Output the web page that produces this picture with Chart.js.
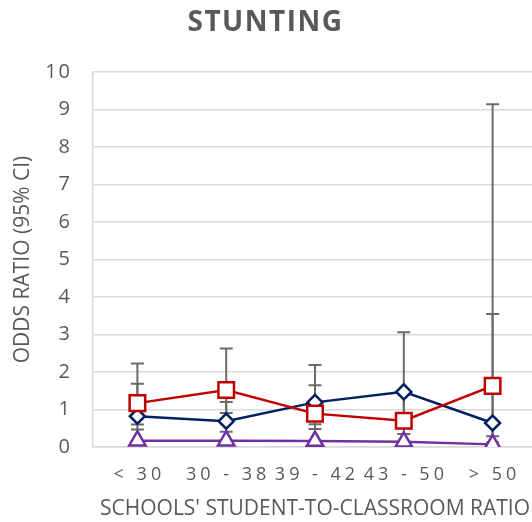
<!DOCTYPE html>
<html>
<head>
<meta charset="utf-8">
<script src="https://cdn.jsdelivr.net/npm/chart.js@4.4.1/dist/chart.umd.min.js"></script>
<style>
html, body { margin: 0; padding: 0; overflow: hidden; background: #fff; }
canvas { display: block; }
</style>
</head>
<body>
<canvas id="c" width="537" height="522"></canvas>
<script>
// ---- data ----
const categories = ['< 30', '30 - 38', '39 - 42', '43 - 50', '> 50'];
const yTicks = [0, 1, 2, 3, 4, 5, 6, 7, 8, 9, 10];

const navyOR   = [0.82, 0.69, 1.19, 1.47, 0.64];
const navyLow  = [0.47, 0.41, 0.61, 0.70, 0.12];
const navyHigh = [1.69, 1.20, 2.19, 3.06, 3.55];

const redOR    = [1.17, 1.52, 0.89, 0.70, 1.63];
const redLow   = [0.60, 0.91, 0.48, 0.35, 0.29];
const redHigh  = [2.23, 2.63, 1.65, 1.40, 9.14];

const purpleOR = [0.17, 0.17, 0.16, 0.14, 0.07];

const ciSeries = [
  [navyLow, navyHigh],
  [redLow, redHigh]
];

const GRAY = '#595959';
const FONT = "'Open Sans', sans-serif";

const errorBars = {
  id: 'errorBars',
  beforeDatasetsDraw(chart) {
    const { ctx, scales: { x, y } } = chart;
    ctx.save();
    ctx.strokeStyle = '#6a6a6a';
    ctx.lineWidth = 2;
    const cap = 6.5;
    ciSeries.forEach(([lows, highs]) => {
      lows.forEach((lo, i) => {
        const hi = highs[i];
        if (lo == null || hi == null) return;
        const px = x.getPixelForValue(i);
        const y1 = y.getPixelForValue(lo);
        const y2 = y.getPixelForValue(hi);
        ctx.beginPath();
        ctx.moveTo(px, y1); ctx.lineTo(px, y2);
        ctx.moveTo(px - cap, y1); ctx.lineTo(px + cap, y1);
        ctx.moveTo(px - cap, y2); ctx.lineTo(px + cap, y2);
        ctx.stroke();
      });
    });
    ctx.restore();
  }
};

function withSpacing(obj, method, spacing, dx) {
  const orig = obj[method].bind(obj);
  obj[method] = function (...args) {
    const c = this.ctx;
    c.save();
    c.letterSpacing = spacing;
    if (dx) c.translate(dx, 0);
    orig(...args);
    c.restore();
  };
}

const textSpacing = {
  id: 'textSpacing',
  afterLayout(chart) {
    const t = chart.titleBlock;
    if (t && !t._patched) { withSpacing(t, 'draw', '1.5px', -3); t._patched = true; }
    const x = chart.scales.x;
    if (x && !x._patched) { withSpacing(x, 'drawLabels', '4px'); x._patched = true; }
    const y = chart.scales.y;
    if (y && !y._patched) { withSpacing(y, 'drawLabels', '2px'); y._patched = true; }
  }
};

new Chart(document.getElementById('c'), {
  type: 'line',
  data: {
    labels: categories,
    datasets: [
      {
        label: 'Navy',
        data: navyOR,
        borderColor: '#002060',
        backgroundColor: '#ffffff',
        borderWidth: 2.5,
        pointStyle: 'rectRot',
        pointRadius: 7.5,
        pointBorderWidth: 2.5,
        pointBackgroundColor: '#ffffff',
        pointBorderColor: '#002060',
        tension: 0,
        order: 2
      },
      {
        label: 'Red',
        data: redOR,
        borderColor: '#C00000',
        backgroundColor: '#ffffff',
        borderWidth: 2.5,
        pointStyle: 'rect',
        pointRadius: 11,
        pointBorderWidth: 2.5,
        pointBackgroundColor: '#ffffff',
        pointBorderColor: '#C00000',
        tension: 0,
        order: 1
      },
      {
        label: 'Purple',
        data: purpleOR,
        borderColor: '#7030A0',
        backgroundColor: '#ffffff',
        borderWidth: 2.5,
        pointStyle: 'triangle',
        pointRadius: 9.5,
        pointBorderWidth: 2.5,
        pointBackgroundColor: '#ffffff',
        pointBorderColor: '#7030A0',
        tension: 0,
        order: 0
      }
    ]
  },
  options: {
    responsive: false,
    animation: false,
    layout: { autoPadding: false, padding: { left: 0, right: 0, top: 0, bottom: 0 } },
    plugins: {
      legend: { display: false },
      tooltip: { enabled: false },
      title: {
        display: true,
        text: 'STUNTING',
        color: GRAY,
        font: { family: FONT, size: 28, weight: 'bold' },
        padding: { top: 6, bottom: 32.4 }
      }
    },
    scales: {
      x: {
        type: 'category',
        offset: true,
        grid: { display: false, drawTicks: false },
        border: { display: true, color: '#d9d9d9', width: 1.5 },
        ticks: {
          color: GRAY,
          font: { family: FONT, size: 18 },
          padding: 17,
          labelOffset: 2,
          maxRotation: 0,
          autoSkip: false
        },
        title: {
          display: true,
          text: "SCHOOLS' STUDENT-TO-CLASSROOM RATIO",
          color: GRAY,
          font: { family: FONT, size: 21 },
          padding: { top: 0, bottom: 0 }
        },
        afterFit(s) { s.height = 75; s.paddingLeft = 0; s.paddingRight = 0; }
      },
      y: {
        min: 0,
        max: 10,
        afterBuildTicks(s) { s.ticks = yTicks.map(v => ({ value: v })); },
        grid: { color: '#d9d9d9', lineWidth: 1.5, drawTicks: false },
        border: { display: true, color: '#d9d9d9', width: 1.5 },
        ticks: {
          color: GRAY,
          font: { family: FONT, size: 20 },
          padding: 21
        },
        title: {
          display: true,
          text: 'ODDS RATIO (95% CI)',
          color: GRAY,
          font: { family: FONT, size: 21 },
          padding: { top: 10, bottom: 0 }
        },
        afterFit(s) { s.width = 93; }
      }
    }
  },
  plugins: [errorBars, textSpacing]
});
</script>
</body>
</html>
